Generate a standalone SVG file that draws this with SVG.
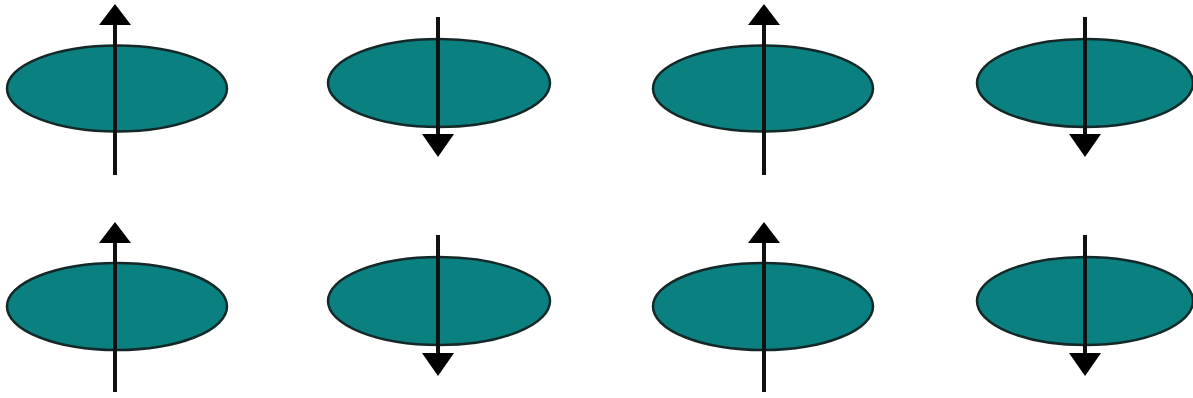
<svg xmlns="http://www.w3.org/2000/svg" width="1193" height="398" viewBox="0 0 1193 398">
<style>
.disc{fill:#0a8080;stroke:#142828;stroke-width:2.5}
.shaft{stroke:#111;stroke-width:4}
.head{fill:#000}
</style>
<rect width="1193" height="398" fill="#fff"/>
<g id="spin-1-1">
<ellipse class="disc" cx="117" cy="88.5" rx="110" ry="43"/>
<line class="shaft" x1="115" y1="175" x2="115" y2="24"/>
<polygon class="head" points="115,4 131,25 99,25"/>
</g>
<g id="spin-1-2">
<ellipse class="disc" cx="439" cy="83" rx="111" ry="44"/>
<line class="shaft" x1="438" y1="17" x2="438" y2="136"/>
<polygon class="head" points="438,157 454,134 422,134"/>
</g>
<g id="spin-1-3">
<ellipse class="disc" cx="763" cy="88.5" rx="110" ry="43"/>
<line class="shaft" x1="764" y1="175" x2="764" y2="24"/>
<polygon class="head" points="764,4 780,25 748,25"/>
</g>
<g id="spin-1-4">
<ellipse class="disc" cx="1085" cy="83" rx="108" ry="44"/>
<line class="shaft" x1="1085" y1="17" x2="1085" y2="136"/>
<polygon class="head" points="1085,157 1101,134 1069,134"/>
</g>
<g id="spin-2-1">
<ellipse class="disc" cx="117" cy="306.5" rx="110" ry="43.5"/>
<line class="shaft" x1="115" y1="392" x2="115" y2="241"/>
<polygon class="head" points="115,222 131,243 99,243"/>
</g>
<g id="spin-2-2">
<ellipse class="disc" cx="439" cy="301" rx="111" ry="44"/>
<line class="shaft" x1="438" y1="235" x2="438" y2="355"/>
<polygon class="head" points="438,376 454,353 422,353"/>
</g>
<g id="spin-2-3">
<ellipse class="disc" cx="763" cy="306.5" rx="110" ry="43.5"/>
<line class="shaft" x1="764" y1="392" x2="764" y2="241"/>
<polygon class="head" points="764,222 780,243 748,243"/>
</g>
<g id="spin-2-4">
<ellipse class="disc" cx="1085" cy="301" rx="108" ry="44"/>
<line class="shaft" x1="1085" y1="235" x2="1085" y2="355"/>
<polygon class="head" points="1085,376 1101,353 1069,353"/>
</g>
<g id="connectors"/>
</svg>
